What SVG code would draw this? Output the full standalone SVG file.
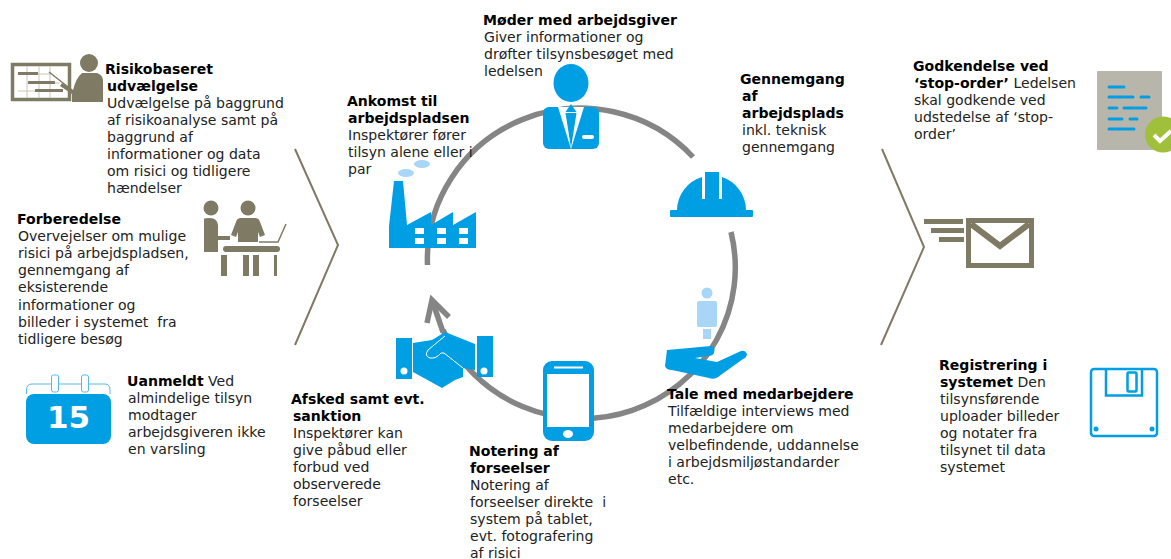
<svg xmlns="http://www.w3.org/2000/svg" width="1171" height="559" viewBox="0 0 1171 559">
<style>
text{font-family:"DejaVu Sans","Liberation Sans",sans-serif;font-size:14.05px;fill:#222}
.b{font-weight:700;fill:#000}
.blue{fill:#009fe3}
.lb{fill:#a9d5f6}
.tan{fill:#7f7a64}
.w{fill:#fff}
.ring{fill:none;stroke:#858585;stroke-width:5.500}
.chev{fill:none;stroke:#7f7a64;stroke-width:2}
</style>
<rect width="1171" height="559" fill="#fff"/>
<g id="connectors">
<path class="ring" d="M427.500 265A153 151 0 0 1 693 157"/>
<path class="ring" d="M731 232A153 151 0 0 1 443 330"/>
<path class="ring" d="M427 323L432 300L449 317"/>
<path class="ring" d="M443 332L433 303"/>
<path class="chev" d="M295 149L338 245L295 345"/>
<path class="chev" d="M882 149L924 247L881 345"/>
</g>
<g id="risikobaseret">
<rect x="12.500" y="64.500" width="57" height="35" fill="#fff" stroke="#7f7a64" stroke-width="3.500"/>
<path d="M18 74H50M28 83H60M18 91H60M27 66V98M39 66V98M50 66V98" stroke="#c9c6b8" stroke-width="1" fill="none"/>
<rect class="tan" x="18" y="72" width="20" height="3"/><rect class="tan" x="28" y="81" width="27" height="3"/><rect class="tan" x="35" y="89" width="28" height="3"/>
<path d="M49 72L72 90" stroke="#7f7a64" stroke-width="1.500"/>
<circle class="tan" cx="89" cy="63" r="9"/>
<path class="tan" d="M82 73H97Q104 75 103 84V102H72V94L60 86L62 83L73 90Q76 78 82 73Z"/>
<text class="b" x="105" y="74">Risikobaseret</text>
<text class="b" x="107" y="91">udvælgelse</text>
<text x="107" y="108">Udvælgelse på baggrund</text>
<text x="107" y="125">af risikoanalyse samt på</text>
<text x="107" y="142">baggrund af</text>
<text x="107" y="159">informationer og data</text>
<text x="107" y="176">om risici og tidligere</text>
<text x="107" y="193">hændelser</text>
</g>
<g id="forberedelse">
<circle class="tan" cx="211" cy="208" r="7.500"/><circle class="tan" cx="248" cy="208" r="7.500"/>
<path class="tan" d="M204 219Q204 218 210 218Q217 218 218 225V236H230V240H218V252H204Z"/>
<path class="tan" d="M241 218H255Q259 218 260 222L265 235L260 237L258 232V242H238V232L236 237L231 235L236 222Q237 218 241 218Z"/>
<rect class="tan" x="223" y="246" width="57" height="6" rx="3"/>
<rect class="tan" x="221" y="255" width="6" height="21"/><rect class="tan" x="243" y="255" width="6" height="21"/><rect class="tan" x="253" y="255" width="6" height="21"/><rect class="tan" x="274" y="255" width="3" height="21"/>
<path d="M259 242H278L286 224" fill="none" stroke="#7f7a64" stroke-width="1.500"/>
<text class="b" x="17" y="224">Forberedelse</text>
<text x="18" y="241">Overvejelser om mulige</text>
<text x="18" y="258">risici på arbejdspladsen,</text>
<text x="18" y="275">gennemgang af</text>
<text x="18" y="292">eksisterende</text>
<text x="18" y="310">informationer og</text>
<text x="18" y="327">billeder i systemet&#160; fra</text>
<text x="18" y="344">tidligere besøg</text>
</g>
<g id="uanmeldt">
<path d="M26.500 394V390Q26.500 384 32 384H105Q110 384 110 390V394" fill="none" stroke="#57b9ea" stroke-width="1"/>
<rect class="blue" x="26" y="394" width="85" height="50" rx="8"/>
<rect x="51.500" y="375" width="7" height="17" rx="2" fill="#fff" stroke="#57b9ea"/>
<rect x="81.500" y="375" width="7" height="17" rx="2" fill="#fff" stroke="#57b9ea"/>
<text x="68.500" y="428" text-anchor="middle" style="font-size:31px;font-weight:700;fill:#fff">15</text>
<text x="127" y="386"><tspan class="b">Uanmeldt</tspan> Ved</text>
<text x="128" y="403">almindelige tilsyn</text>
<text x="128" y="420">modtager</text>
<text x="128" y="437">arbejdsgiveren ikke</text>
<text x="128" y="454">en varsling</text>
</g>
<g id="moder">
<ellipse class="blue" cx="571" cy="83" rx="17.500" ry="19"/>
<rect class="blue" x="543" y="107" width="56" height="42" rx="6"/>
<path class="w" d="M558 107H584L571 149Z"/>
<path class="blue" d="M571 104L576.500 112H565.500ZM565.500 113H576.500L571 148Z"/>
<rect class="w" x="582" y="135" width="12" height="4" rx="2"/>
<text class="b" x="483" y="25">Møder med arbejdsgiver</text>
<text x="484" y="42">Giver informationer og</text>
<text x="484" y="59">drøfter tilsynsbesøget med</text>
<text x="484" y="76">ledelsen</text>
</g>
<g id="ankomst">
<path class="blue" d="M389 248V226L394 181H403L407 225L431 212V225L453 212V225L476 212V248Z"/>
<g class="w"><rect x="415" y="228" width="9" height="6"/><rect x="437" y="228" width="9" height="6"/><rect x="459" y="228" width="9" height="6"/><rect x="415" y="238" width="9" height="6"/><rect x="437" y="238" width="9" height="6"/><rect x="459" y="238" width="9" height="6"/></g>
<ellipse class="lb" cx="406" cy="173" rx="8" ry="4"/><ellipse class="lb" cx="422" cy="164" rx="8" ry="4"/>
<text class="b" x="347" y="106">Ankomst til</text>
<text class="b" x="348" y="123">arbejdspladsen</text>
<text x="348" y="140">Inspektører fører</text>
<text x="348" y="157">tilsyn alene eller i</text>
<text x="348" y="174">par</text>
</g>
<g id="gennemgang">
<path class="blue" d="M677 210A35 35 0 0 1 702 177V199H722V177A35 35 0 0 1 746 210Z"/>
<path class="blue" d="M705 172H719V199H705Z"/>
<rect class="blue" x="670" y="210" width="83" height="7" rx="1"/>
<text class="b" x="740" y="84">Gennemgang</text>
<text class="b" x="742" y="101">af</text>
<text class="b" x="742" y="118">arbejdsplads</text>
<text x="742" y="135">inkl. teknisk</text>
<text x="742" y="152">gennemgang</text>
</g>
<g id="tale">
<circle class="lb" cx="707" cy="293" r="5.500"/>
<rect class="lb" x="697" y="301" width="20" height="26" rx="2"/>
<rect class="lb" x="703" y="329" width="8" height="10"/>
<path class="blue" d="M667 350L711 346Q716 347 714 353Q713 356 708 356L695 358L717 362L741 351Q746 350 747 355Q746 358 743 359L718 377Q714 380 709 378L672 370Q666 370 665 366Z"/>
<text class="b" x="667" y="399">Tale med medarbejdere</text>
<text x="668" y="416">Tilfældige interviews med</text>
<text x="668" y="433">medarbejdere om</text>
<text x="668" y="450">velbefindende, uddannelse</text>
<text x="668" y="467">i arbejdsmiljøstandarder</text>
<text x="668" y="484">etc.</text>
</g>
<g id="notering">
<rect class="blue" x="543" y="361" width="51" height="80" rx="9"/>
<rect class="w" x="547" y="374" width="42" height="53"/>
<rect class="w" x="554" y="366.500" width="29" height="2"/>
<ellipse class="w" cx="568" cy="434" rx="5" ry="4"/>
<text class="b" x="469" y="456">Notering af</text>
<text class="b" x="470" y="473">forseelser</text>
<text x="470" y="490">Notering af</text>
<text x="470" y="507">forseelser direkte&#160; i</text>
<text x="470" y="524">system på tablet,</text>
<text x="470" y="541">evt. fotografering</text>
<text x="470" y="558">af risici</text>
</g>
<g id="afsked">
<rect class="blue" x="396" y="338" width="16" height="41"/><circle class="w" cx="404" cy="371" r="3.500"/>
<rect class="blue" x="477" y="336" width="16" height="41"/><circle class="w" cx="484" cy="371" r="3.500"/>
<path class="blue" d="M413 343L432 340L445 332L475 344V370L463 368V377L455 380L442 388L413 372Z"/>
<path d="M445 336L428 350Q424 356 430 358Q436 359 441 353L444 353L463 368" fill="none" stroke="#fff" stroke-width="1"/>
<text class="b" x="291" y="404">Afsked samt evt.</text>
<text class="b" x="293" y="421">sanktion</text>
<text x="293" y="438">Inspektører kan</text>
<text x="293" y="455">give påbud eller</text>
<text x="293" y="472">forbud ved</text>
<text x="293" y="489">observerede</text>
<text x="293" y="506">forseelser</text>
</g>
<g id="godkendelse">
<rect x="1097" y="71" width="65" height="79" rx="1" fill="#b8b6ab"/>
<g fill="none" stroke="#009fe3" stroke-width="3" stroke-linecap="round">
<path d="M1109 87H1124M1109 97H1133M1141 97H1149M1109 108H1117M1124 108H1146M1109 119H1122M1130 119H1137M1109 129H1134"/>
</g>
<circle cx="1163" cy="134.500" r="18" fill="#a0c03c"/>
<path d="M1154 135L1160 141L1171 131" fill="none" stroke="#fff" stroke-width="4"/>
<text class="b" x="913" y="71">Godkendelse ved</text>
<text x="914" y="88"><tspan class="b">‘stop-order’</tspan> Ledelsen</text>
<text x="914" y="105">skal godkende ved</text>
<text x="914" y="122">udstedelse af ‘stop-</text>
<text x="914" y="139">order’</text>
</g>
<g id="mail">
<rect x="968.500" y="220.500" width="63" height="45" fill="#fff" stroke="#7f7a64" stroke-width="5"/>
<path d="M971 224L1000 246L1029 224" fill="none" stroke="#7f7a64" stroke-width="6"/>
<rect class="tan" x="924" y="219" width="39" height="5"/>
<rect class="tan" x="931" y="228" width="33" height="5"/>
<rect class="tan" x="939" y="237" width="25" height="5"/>
</g>
<g id="registrering">
<rect x="1091" y="369" width="66" height="67" rx="3" fill="#fff" stroke="#009fe3" stroke-width="2.500"/>
<path d="M1106 369V395.500H1142V369" fill="none" stroke="#009fe3" stroke-width="2.500"/>
<rect x="1127.500" y="372.500" width="9" height="19" rx="1" fill="none" stroke="#009fe3" stroke-width="2.500"/>
<circle class="blue" cx="1096" cy="429" r="2.500"/><circle class="blue" cx="1152" cy="429" r="2.500"/>
<text class="b" x="939" y="370">Registrering i</text>
<text x="940" y="387"><tspan class="b">systemet</tspan> Den</text>
<text x="940" y="404">tilsynsførende</text>
<text x="940" y="421">uploader billeder</text>
<text x="940" y="438">og notater fra</text>
<text x="940" y="455">tilsynet til data</text>
<text x="940" y="472">systemet</text>
</g>
</svg>
